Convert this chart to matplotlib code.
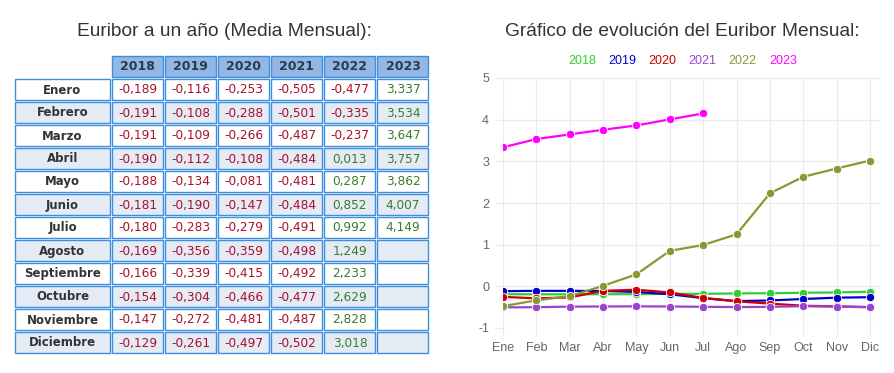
import matplotlib
matplotlib.use("Agg")
import matplotlib.pyplot as plt
from matplotlib.patches import Rectangle

plt.rcParams["axes.unicode_minus"] = False

meses = ["Enero", "Febrero", "Marzo", "Abril", "Mayo", "Junio", "Julio",
         "Agosto", "Septiembre", "Octubre", "Noviembre", "Diciembre"]
meses_cortos = ["Ene", "Feb", "Mar", "Abr", "May", "Jun", "Jul",
                "Ago", "Sep", "Oct", "Nov", "Dic"]
anios = ["2018", "2019", "2020", "2021", "2022", "2023"]

e2018 = [-0.189, -0.191, -0.191, -0.190, -0.188, -0.181, -0.180, -0.169, -0.166, -0.154, -0.147, -0.129]
e2019 = [-0.116, -0.108, -0.109, -0.112, -0.134, -0.190, -0.283, -0.356, -0.339, -0.304, -0.272, -0.261]
e2020 = [-0.253, -0.288, -0.266, -0.108, -0.081, -0.147, -0.279, -0.359, -0.415, -0.466, -0.481, -0.497]
e2021 = [-0.505, -0.501, -0.487, -0.484, -0.481, -0.484, -0.491, -0.498, -0.492, -0.477, -0.487, -0.502]
e2022 = [-0.477, -0.335, -0.237, 0.013, 0.287, 0.852, 0.992, 1.249, 2.233, 2.629, 2.828, 3.018]
e2023 = [3.337, 3.534, 3.647, 3.757, 3.862, 4.007, 4.149]
series = [e2018, e2019, e2020, e2021, e2022, e2023]

colores = ["#33cc33", "#0000cc", "#cc0000", "#9944cc", "#889933", "#ff00ff"]

W, H = 895, 373
fig = plt.figure(figsize=(W / 100, H / 100), dpi=100)

# ---- tabla (coordenadas en pixeles) ----
tab = fig.add_axes([0, 0, 1, 1])
tab.set_xlim(0, W)
tab.set_ylim(H, 0)
tab.axis("off")

borde = "#3d8fdd"
fondo_cab = "#93b7e4"
fondo_alt = "#e4ebf5"
rojo = "#a8102a"
verde = "#3a7d2a"

tab.text(224, 31, "Euribor a un año (Media Mensual):", ha="center", va="center",
         fontsize=13.8, color="#333333", family="Liberation Sans")

x_lab, w_lab = 15, 95
x0, paso, w_col = 112, 53.1, 51
y_cab, h_cab = 56, 21
y0, paso_f, h_f = 79, 23, 21

for j, a in enumerate(anios):
    x = x0 + j * paso
    tab.add_patch(Rectangle((x, y_cab), w_col, h_cab, facecolor=fondo_cab, edgecolor=borde, lw=1))
    tab.text(x + w_col / 2, y_cab + h_cab / 2 + 0.5, a, ha="center", va="center",
             fontsize=9, fontweight="bold", color="#2b3a4a", family="DejaVu Sans")

for i, m in enumerate(meses):
    y = y0 + i * paso_f
    bg = "white" if i % 2 == 0 else fondo_alt
    tab.add_patch(Rectangle((x_lab, y), w_lab, h_f, facecolor=bg, edgecolor=borde, lw=1))
    tab.text(x_lab + w_lab / 2, y + h_f / 2 + 0.5, m, ha="center", va="center",
             fontsize=8.5, fontweight="bold", color="#333333", family="DejaVu Sans")
    for j, s in enumerate(series):
        x = x0 + j * paso
        tab.add_patch(Rectangle((x, y), w_col, h_f, facecolor=bg, edgecolor=borde, lw=1))
        if i < len(s):
            v = s[i]
            txt = f"{v:.3f}".replace(".", ",")
            tab.text(x + w_col / 2, y + h_f / 2 + 0.5, txt, ha="center", va="center",
                     fontsize=8.7, color=rojo if v < 0 else verde, family="DejaVu Sans")

# ---- grafico ----
fig.text(682 / W, 1 - 31 / H, "Gráfico de evolución del Euribor Mensual:", ha="center", va="center",
         fontsize=13.8, color="#333333", family="Liberation Sans")
for k, a in enumerate(anios):
    fig.text((582 + k * 40.2) / W, 1 - 61 / H, a, ha="center", va="center",
             fontsize=9, color=colores[k], family="Liberation Sans")

ax = fig.add_axes([503 / W, 1 - 328 / H, 377 / W, 250 / H])
for k, s in enumerate(series):
    ax.plot(range(len(s)), s, color=colores[k], lw=1.6, marker="o", ms=6,
            markeredgecolor="white", markeredgewidth=0.6, zorder=3 + k)

ax.set_xlim(0, 11.3)
ax.set_ylim(-1, 5)
ax.set_xticks(range(12))
ax.set_xticklabels(meses_cortos)
ax.set_yticks(range(-1, 6))
ax.grid(True, color="#ebebeb", lw=0.8)
for sp in ax.spines.values():
    sp.set_visible(False)
ax.tick_params(length=6, color="#ebebeb", labelcolor="#666666", labelsize=9, pad=4)
for lbl in ax.get_xticklabels() + ax.get_yticklabels():
    lbl.set_family("Liberation Sans")

fig.savefig("out.png", dpi=100)
